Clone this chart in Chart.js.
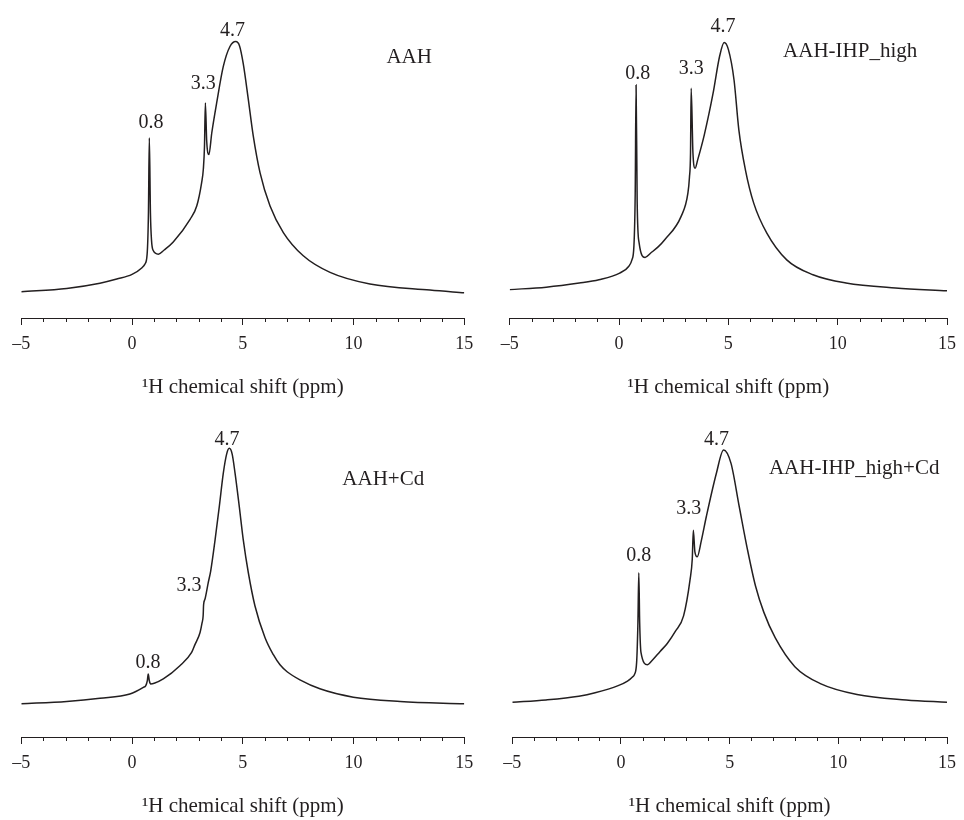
<!DOCTYPE html>
<html>
<head>
<meta charset="utf-8">
<script src="https://cdn.jsdelivr.net/npm/chart.js@4.4.1/dist/chart.umd.min.js"></script>
<style>
  html, body { margin: 0; padding: 0; background: #fff; overflow: hidden; }
  body { width: 964px; height: 820px; position: relative; }
  canvas { position: absolute; }
</style>
</head>
<body>
<canvas id="c1" width="482" height="410" style="left:0;top:0"></canvas>
<canvas id="c2" width="482" height="410" style="left:482px;top:0"></canvas>
<canvas id="c3" width="482" height="410" style="left:0;top:419px"></canvas>
<canvas id="c4" width="482" height="410" style="left:482px;top:419px"></canvas>
<script>
// 1H NMR spectra, intensity in arbitrary units (main peak = 100)
const shiftAAH = [-5, -2.95, -1.45, -0.69, 0.0, 0.45, 0.58, 0.68, 0.74, 0.78, 0.83, 0.88, 0.95, 1.19, 1.45, 1.86, 2.62, 2.92, 3.14, 3.22, 3.27, 3.31, 3.37, 3.47, 3.6, 3.82, 4.12, 4.42, 4.68, 4.85, 5.02, 5.25, 5.47, 5.78, 6.23, 6.83, 7.73, 8.94, 10.74, 13.45, 15];
const intAAH = [9.5, 10.7, 12.6, 14.1, 15.8, 18.2, 19.5, 23, 38, 65.2, 38, 28, 24.5, 23.1, 24.6, 27.5, 35.7, 40.5, 48.9, 54, 62, 77.8, 64, 59.1, 67, 77.8, 91.0, 98.2, 100, 98.5, 92, 79, 66, 52.5, 40.5, 30.9, 22.5, 16.5, 12.3, 10.1, 9.1];

const shiftIHP = [-5, -3.33, -1.82, -0.92, 0.03, 0.45, 0.59, 0.68, 0.74, 0.78, 0.83, 0.92, 1.19, 1.45, 1.8, 2.09, 2.84, 3.15, 3.22, 3.27, 3.30, 3.38, 3.48, 3.6, 3.9, 4.3, 4.6, 4.81, 5.0, 5.26, 5.48, 5.78, 6.16, 6.76, 7.67, 8.87, 10.38, 12.64, 15];
const intIHP = [10.3, 11.2, 12.7, 13.9, 16.3, 18.8, 21.1, 26, 45, 84.6, 42, 27.2, 22.0, 23.6, 25.9, 28.4, 36.9, 45.3, 51, 60, 83.4, 60, 54.4, 57.5, 66.5, 81.5, 95, 100, 97.5, 86.4, 68.3, 53.8, 41.7, 30.8, 21.1, 15.7, 12.7, 10.9, 9.9];

const shiftCd = [-5, -2.95, -1.45, -0.10, 0.51, 0.62, 0.69, 0.73, 0.78, 0.84, 1.0, 1.41, 2.16, 2.69, 2.84, 3.07, 3.16, 3.21, 3.23, 3.29, 3.44, 3.55, 3.75, 3.94, 4.12, 4.27, 4.39, 4.52, 4.65, 4.84, 5.02, 5.25, 5.55, 6.0, 6.38, 6.68, 7.0, 7.58, 8.48, 9.99, 12.1, 15];
const intCd = [11.5, 12.3, 13.4, 14.9, 17.2, 17.8, 19.5, 21.8, 19.5, 18.4, 18.6, 20.1, 24.7, 29.3, 32.0, 36.2, 39.5, 42.0, 45.8, 47.7, 53.5, 57.5, 68.4, 79.9, 91.4, 98, 100, 98, 91.4, 79.9, 68.4, 56.9, 45.4, 34.5, 28.5, 25.0, 22.6, 19.8, 16.7, 13.8, 12.3, 11.5];

const shiftIHPCd = [-5, -3.45, -1.94, -1.19, -0.13, 0.3, 0.54, 0.62, 0.72, 0.78, 0.82, 0.86, 0.92, 1.22, 1.4, 1.8, 2.13, 2.5, 2.88, 3.18, 3.28, 3.33, 3.40, 3.51, 3.7, 3.93, 4.39, 4.72, 5.06, 5.44, 5.82, 6.19, 6.57, 7.1, 8.0, 9.2, 10.86, 13.12, 15];
const intIHPCd = [12.1, 12.9, 14.2, 15.4, 17.9, 19.5, 21.0, 21.8, 26, 40, 57.2, 40, 29.5, 25.2, 26.4, 29.8, 32.6, 36.8, 42.2, 54.9, 62, 72.0, 64.5, 62.8, 68.5, 76.9, 91.9, 100, 95.4, 80.3, 65.3, 52.6, 43.5, 34.5, 24.5, 18.5, 14.8, 12.9, 12.1];

const sampleNames = ["AAH", "AAH-IHP_high", "AAH+Cd", "AAH-IHP_high+Cd"];
const peakTags = ["0.8", "3.3", "4.7"];
const majorTicks = [-5, 0, 5, 10, 15];

const ink = "#231f20";
const serif = "'Liberation Serif', 'Times New Roman', serif";

// minor ticks every 1 ppm, drawn through the x scale
const minorTicks = {
  id: "minorTicks",
  afterDraw(chart) {
    const sx = chart.scales.x;
    const ctx = chart.ctx;
    ctx.save();
    ctx.strokeStyle = ink;
    ctx.lineWidth = 1;
    for (let v = sx.min; v <= sx.max; v++) {
      if (majorTicks.includes(v)) continue;
      const px = Math.round(sx.getPixelForValue(v)) + 0.5;
      ctx.beginPath();
      ctx.moveTo(px, sx.top);
      ctx.lineTo(px, sx.top + 4);
      ctx.stroke();
    }
    ctx.restore();
  }
};

// peak labels and sample name
const peakText = {
  id: "peakText",
  afterDraw(chart, args, opts) {
    const sx = chart.scales.x, sy = chart.scales.y;
    const ctx = chart.ctx;
    ctx.save();
    ctx.fillStyle = ink;
    ctx.textAlign = "center";
    ctx.textBaseline = "alphabetic";
    ctx.font = "20px " + serif;
    opts.tags.forEach((t, i) => {
      ctx.fillText(peakTags[i], sx.getPixelForValue(t[0]), sy.getPixelForValue(t[1]) + 7);
    });
    ctx.font = "21px " + serif;
    ctx.fillText(opts.name, sx.getPixelForValue(opts.nameAt[0]), sy.getPixelForValue(opts.nameAt[1]) + 7);
    ctx.restore();
  }
};

function makeChart(id, xs, ys, cfg) {
  const points = xs.map((x, i) => ({ x: x, y: ys[i] }));
  new Chart(document.getElementById(id), {
    type: "line",
    data: {
      datasets: [{
        data: points,
        borderColor: ink,
        borderWidth: 1.5,
        pointRadius: 0,
        fill: false,
        cubicInterpolationMode: "monotone"
      }]
    },
    options: {
      responsive: false,
      animation: false,
      devicePixelRatio: 1,
      layout: { padding: { left: cfg.left, right: cfg.right, top: 10, bottom: 0 } },
      plugins: {
        legend: { display: false },
        tooltip: { enabled: false },
        peakText: { tags: cfg.tags, name: cfg.name, nameAt: cfg.nameAt }
      },
      scales: {
        x: {
          type: "linear",
          min: -5,
          max: 15,
          border: { display: true, color: ink, width: 1 },
          grid: {
            display: true,
            drawOnChartArea: false,
            tickLength: 7,
            tickWidth: 1,
            tickColor: (c) => (c.tick && majorTicks.includes(c.tick.value) ? ink : "rgba(0,0,0,0)")
          },
          ticks: {
            stepSize: 1,
            autoSkip: false,
            maxRotation: 0,
            padding: 8,
            color: ink,
            font: { family: serif, size: 18 },
            callback: (v) => (majorTicks.includes(v) ? String(v).replace("-", "\u2013") : "")
          },
          title: {
            display: true,
            text: "\u00b9H chemical shift (ppm)",
            color: ink,
            font: { family: serif, size: 21 },
            padding: { top: 11.8, bottom: 10.4 }
          }
        },
        y: { display: false, min: 0, max: cfg.yMax }
      }
    },
    plugins: [minorTicks, peakText]
  });
}

makeChart("c1", shiftAAH, intAAH, {
  left: 21.3, right: 17.7, yMax: 111.4, name: sampleNames[0], nameAt: [12.51, 94.9],
  tags: [[0.85, 71.1], [3.22, 85.3], [4.53, 104.5]]
});
makeChart("c2", shiftIHP, intIHP, {
  left: 27.7, right: 11.7, yMax: 111.8, name: sampleNames[1], nameAt: [10.57, 97.3],
  tags: [[0.86, 89.3], [3.30, 91.0], [4.75, 106.4]]
});
makeChart("c3", shiftCd, intCd, {
  left: 21.3, right: 17.7, yMax: 106.7, name: sampleNames[2], nameAt: [11.34, 89.7],
  tags: [[0.72, 26.4], [2.57, 52.9], [4.29, 103.7]]
});
makeChart("c4", shiftIHPCd, intIHPCd, {
  left: 30.3, right: 9, yMax: 107.3, name: sampleNames[3], nameAt: [10.73, 93.9],
  tags: [[0.82, 63.6], [3.12, 80.1], [4.39, 104.2]]
});
</script>
</body>
</html>
